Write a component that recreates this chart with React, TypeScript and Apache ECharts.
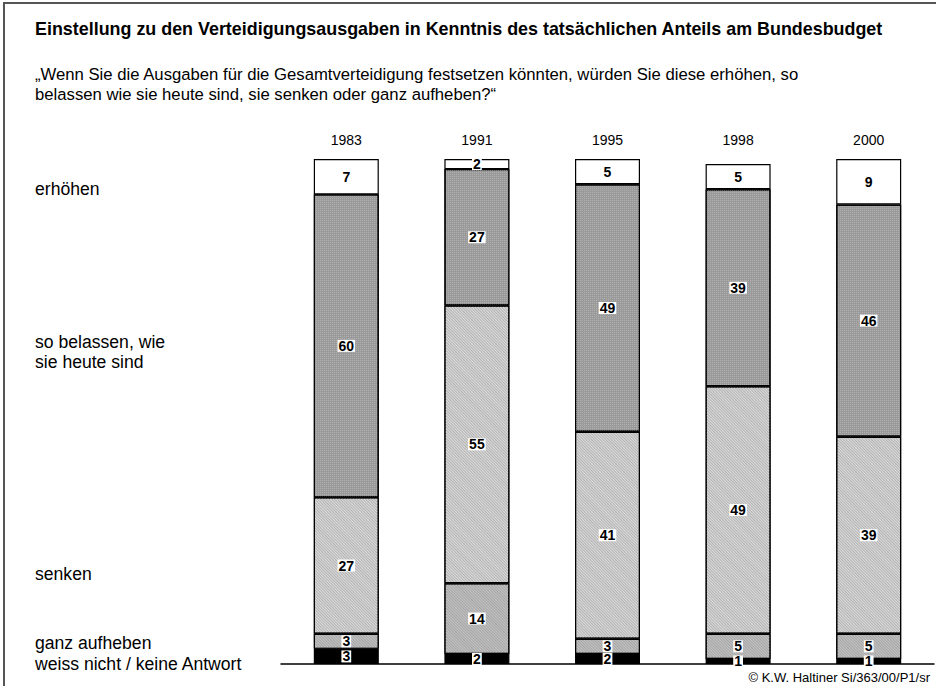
import React, { useEffect, useRef } from "react";
import * as echarts from "echarts";

const years = ["1983", "1991", "1995", "1998", "2000"];
const weissNicht = [3, 2, 2, 1, 1];
const ganzAufheben = [3, 14, 3, 5, 5];
const senken = [27, 55, 41, 49, 39];
const soBelassen = [60, 27, 49, 39, 46];
const erhoehen = [7, 2, 5, 5, 9];

const title = "Einstellung zu den Verteidigungsausgaben in Kenntnis des tatsächlichen Anteils am Bundesbudget";
const subtitle1 = "„Wenn Sie die Ausgaben für die Gesamtverteidigung festsetzen könnten, würden Sie diese erhöhen, so";
const subtitle2 = "belassen wie sie heute sind, sie senken oder ganz aufheben?“";
const credit = "© K.W. Haltiner Si/363/00/P1/sr";

const FONT = "Arial, 'Liberation Sans', Helvetica, sans-serif";

export default function App() {
  const ref = useRef<HTMLDivElement>(null);
  useEffect(() => {
    if (!ref.current) return;
    const chart = echarts.init(ref.current, undefined, { renderer: "svg" });
    const label = {
      show: true,
      position: "inside",
      formatter: "{c}",
      color: "#000",
      fontWeight: "bold",
      fontSize: 14,
      lineHeight: 12,
      fontFamily: FONT,
      backgroundColor: "#fff",
      padding: [0, 1],
    };
    const mk = (name: string, data: number[], itemStyle: any) => ({
      name,
      type: "bar",
      stack: "total",
      data,
      barWidth: 65,
      label,
      labelLayout: { moveOverlap: "shiftY" },
      itemStyle: { borderColor: "#000", borderWidth: 1.2, ...itemStyle },
      emphasis: { disabled: true },
    });
    const leftLabel = (text: string, y: number) => ({
      type: "text",
      x: 35,
      y,
      style: { text, fontSize: 17.6, fontFamily: FONT, fill: "#000", verticalAlign: "middle", lineHeight: 20 },
    });
    chart.setOption({
      animation: false,
      backgroundColor: "#fff",
      grid: { left: 281, right: 2, top: 159, bottom: 22, containLabel: false },
      xAxis: [
        {
          type: "category",
          data: years,
          position: "top",
          axisLine: { show: false },
          axisTick: { show: false },
          axisLabel: { color: "#000", fontSize: 14, fontFamily: FONT, margin: 12 },
        },
        {
          type: "category",
          data: years,
          position: "bottom",
          axisLine: { show: true, lineStyle: { color: "#000", width: 1.5 } },
          axisTick: { show: false },
          axisLabel: { show: false },
        },
      ],
      yAxis: { type: "value", min: 0, max: 100, show: false },
      series: [
        mk("weiss nicht / keine Antwort", weissNicht, { color: "#000" }),
        mk("ganz aufheben", ganzAufheben, {
          color: "#c4c4c4",
          decal: {
            symbol: "rect",
            color: "#a4a4a4",
            backgroundColor: "#d6d6d6",
            dashArrayX: [1, 0],
            dashArrayY: [1, 1],
            rotation: Math.PI / 4,
          },
        }),
        mk("senken", senken, {
          color: "#dcdcdc",
          decal: {
            symbol: "rect",
            color: "#b2b2b2",
            backgroundColor: "#ffffff",
            dashArrayX: [1, 0],
            dashArrayY: [1, 1],
            rotation: Math.PI / 4,
          },
        }),
        mk("so belassen, wie sie heute sind", soBelassen, {
          color: "#9a9a9a",
          decal: {
            symbol: "rect",
            symbolSize: 1,
            color: "#b0b0b0",
            backgroundColor: "#8e8e8e",
            dashArrayX: [1, 1],
            dashArrayY: [1, 1],
          },
        }),
        mk("erhöhen", erhoehen, { color: "#fff" }),
      ],
      graphic: [
        {
          type: "rect",
          shape: { x: 4, y: 3, width: 1000, height: 1000 },
          style: { fill: "none", stroke: "#555", lineWidth: 2 },
          silent: true,
        },
        {
          type: "text",
          x: 35,
          y: 29,
          style: { text: title, fontSize: 17.9, fontWeight: "bold", fontFamily: FONT, fill: "#000", verticalAlign: "middle" },
        },
        {
          type: "text",
          x: 35,
          y: 74,
          style: { text: subtitle1, fontSize: 16.7, fontFamily: FONT, fill: "#000", verticalAlign: "middle" },
        },
        {
          type: "text",
          x: 35,
          y: 94,
          style: { text: subtitle2, fontSize: 16.7, fontFamily: FONT, fill: "#000", verticalAlign: "middle" },
        },
        leftLabel("erhöhen", 189),
        leftLabel("so belassen, wie\nsie heute sind", 352),
        leftLabel("senken", 574),
        leftLabel("ganz aufheben", 643),
        leftLabel("weiss nicht / keine Antwort", 664),
        {
          type: "text",
          x: 930,
          y: 677,
          style: { text: credit, fontSize: 13, fontFamily: FONT, fill: "#000", align: "right", verticalAlign: "middle" },
        },
      ],
    });
    return () => chart.dispose();
  }, []);
  return <div ref={ref} style={{ position: "fixed", left: 0, top: 0, width: 936, height: 686 }} />;
}
